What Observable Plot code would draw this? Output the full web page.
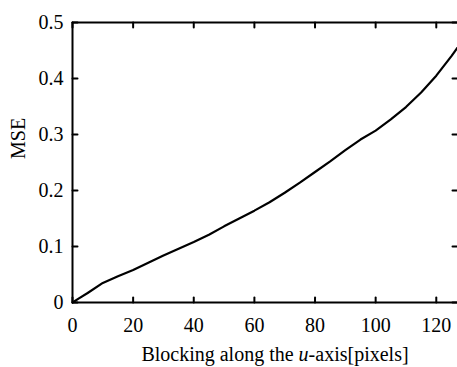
<!DOCTYPE html>
<html><head><meta charset="utf-8">
<script src="https://cdn.jsdelivr.net/npm/d3@7"></script>
<script src="https://cdn.jsdelivr.net/npm/@observablehq/plot@0.6"></script>
<style>
html,body{margin:0;padding:0;background:#fff}
svg{display:block}
</style>
</head><body><div id="chart"></div>
<script>
// Data
const blockX = [0, 2, 5, 10, 15, 20, 25, 30, 35, 40, 45, 50, 55, 60, 65, 70, 75, 80, 85, 90, 95, 100, 105, 110, 115, 120, 125, 127];
const mse    = [0, 0.007, 0.017, 0.035, 0.047, 0.058, 0.071, 0.084, 0.096, 0.108, 0.121, 0.136, 0.150, 0.164, 0.179, 0.196, 0.214, 0.233, 0.252, 0.272, 0.291, 0.307, 0.327, 0.349, 0.375, 0.405, 0.440, 0.455];
const xTicks = [0, 20, 40, 60, 80, 100, 120];
const yTicks = [0, 0.1, 0.2, 0.3, 0.4, 0.5];
const yTickLabels = ["0", "0.1", "0.2", "0.3", "0.4", "0.5"];
const xLabelParts = ["Blocking along the ", "u", "-axis[pixels]"];
const yLabel = "MSE";

const data = blockX.map((x, i) => ({x, y: mse[i]}));
const xLabel = xLabelParts.join("");

// simple straight tick shape for vectors (no arrow head)
const tickShape = {draw(context, l) { context.moveTo(0, 0); context.lineTo(0, -l); }};
const tickOpts = {length: 5, anchor: "start", shape: tickShape, stroke: "#000", strokeWidth: 2};

const chart = Plot.plot({
  width: 457, height: 367,
  marginLeft: 72, marginTop: 22, marginBottom: 65, marginRight: 0,
  style: {fontFamily: "Liberation Serif", fontSize: "20px", background: "#fff", color: "#000"},
  x: {domain: [0, 127]},
  y: {domain: [0, 0.5]},
  marks: [
    // frame (top, left, bottom)
    Plot.ruleY([0.5], {stroke: "#000", strokeWidth: 2}),
    Plot.ruleX([0], {stroke: "#000", strokeWidth: 2}),
    Plot.ruleY([0], {stroke: "#000", strokeWidth: 2}),
    // inward ticks on all four sides
    Plot.vector(xTicks, {x: d => d, frameAnchor: "bottom", rotate: 0, ...tickOpts}),
    Plot.vector(xTicks, {x: d => d, frameAnchor: "top", rotate: 180, ...tickOpts}),
    Plot.vector(yTicks, {y: d => d, frameAnchor: "left", rotate: 90, ...tickOpts}),
    Plot.vector(yTicks, {y: d => d, frameAnchor: "right", rotate: -90, ...tickOpts}),
    // tick labels
    Plot.axisX({anchor: "bottom", ticks: xTicks, tickSize: 0, tickPadding: 15, label: null, fill: "#000"}),
    Plot.axisY({anchor: "left", ticks: yTicks, tickSize: 0, tickPadding: 9, label: null, fill: "#000",
      tickFormat: d => yTickLabels[yTicks.indexOf(d)]}),
    // curve
    Plot.line(data, {x: "x", y: "y", stroke: "#000", strokeWidth: 2.2}),
    // axis titles
    Plot.text([xLabel], {frameAnchor: "bottom", dy: 52, dx: 10, fill: "#000", lineAnchor: "middle"}),
    Plot.text([yLabel], {frameAnchor: "left", dx: -54, dy: -3.5, rotate: -90, fill: "#000", lineAnchor: "middle"})
  ]
});

// italic "u" in x label
d3.select(chart).selectAll("text").filter(function() { return this.textContent === xLabel; })
  .each(function() {
    const t = d3.select(this);
    t.text(null);
    t.append("tspan").text(xLabelParts[0]);
    t.append("tspan").attr("font-style", "italic").text(xLabelParts[1]);
    t.append("tspan").text(xLabelParts[2]);
  });

document.getElementById("chart").appendChild(chart);
</script>
</body></html>
